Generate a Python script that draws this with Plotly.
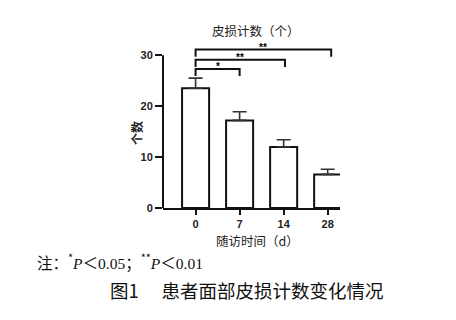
import plotly.graph_objects as go

categories = ["0", "7", "14", "28"]
means = [23.5, 17.2, 12.0, 6.6]
err_up = [2.0, 1.7, 1.4, 1.0]
y_ticks = [0, 10, 20, 30]
# significance brackets: (left idx, right idx, level, label)
br_left = [0, 0, 0]
br_right = [1.0, 2.03, 3.08]
br_level = [27.3, 29.1, 31.1]
br_label = ["*", "**", "**"]

W, H = 456, 320
L, R, T, B = 163, 340, 45, 208

def px(x):
    return (x - L) / (R - L)

def py(y):
    return (B - y) / (B - T)

xs = list(range(len(categories)))

fig = go.Figure()
fig.add_trace(go.Bar(
    x=xs, y=means, width=0.614,
    marker=dict(color="white", line=dict(color="#111", width=2)),
    error_y=dict(type="data", symmetric=False, array=err_up,
                 arrayminus=[0]*len(means), color="#333", thickness=1.6, width=7),
    showlegend=False,
))

shapes = []
# y axis line from 0 to 30
shapes.append(dict(type="line", xref="paper", yref="y", x0=0, x1=0, y0=0, y1=30,
                   line=dict(color="#111", width=2)))
drop = 1.4
for l, r, lv in zip(br_left, br_right, br_level):
    shapes.append(dict(type="path", xref="x", yref="y",
                       path=f"M {l},{lv-drop} L {l},{lv} L {r},{lv} L {r},{lv-drop}",
                       line=dict(color="#111", width=2)))

annotations = []
for l, r, lv, lab in zip(br_left, br_right, br_level, br_label):
    annotations.append(dict(x=(l + r) / 2, y=lv, xref="x", yref="y", text=lab,
                            showarrow=False, xanchor="center", yanchor="bottom", yshift=-5,
                            font=dict(size=10, color="#000", family="Liberation Sans", weight="bold")))

cjk = "Noto Sans CJK SC"
serif = "<span style=\"font-family:Liberation Serif\">{}</span>"
note = ("注：<sup>*</sup>" + serif.format("<i>P</i>") + "＜" + serif.format("0.05") +
        "；<sup>**</sup>" + serif.format("<i>P</i>") + "＜" + serif.format("0.01"))
annotations += [
    dict(x=px(255.5), y=py(30), xref="paper", yref="paper", text="皮损计数（个）",
         xanchor="center", yanchor="middle",
         showarrow=False, font=dict(size=12.5, color="#222", family=cjk)),
    dict(x=px(257), y=py(240), xref="paper", yref="paper", text="随访时间（d）",
         xanchor="center", yanchor="middle",
         showarrow=False, font=dict(size=12.5, color="#222", family=cjk)),
    dict(x=px(136), y=py(133), xref="paper", yref="paper", text="个数", textangle=-90,
         xanchor="center", yanchor="middle",
         showarrow=False, font=dict(size=12, color="#222", family=cjk, weight="bold")),
    dict(x=px(35), y=py(261), xref="paper", yref="paper", xanchor="left", yanchor="middle",
         text=note, showarrow=False, font=dict(size=15.5, color="#111", family=cjk)),
    dict(x=px(246), y=py(290), xref="paper", yref="paper",
         xanchor="center", yanchor="middle",
         text="图1　 患者面部皮损计数变化情况",
         showarrow=False, font=dict(size=18.5, color="#111", family=cjk)),
]

fig.update_layout(
    width=W, height=H,
    margin=dict(l=L, r=W - R, t=T, b=H - B, pad=0),
    paper_bgcolor="white", plot_bgcolor="white",
    shapes=shapes, annotations=annotations,
    xaxis=dict(range=[-0.74, 3.28], tickmode="array", tickvals=xs, ticktext=categories,
               showline=True, linecolor="#111", linewidth=2, ticks="outside",
               ticklen=5, tickwidth=2, tickcolor="#111", showgrid=False, zeroline=False,
               tickfont=dict(size=11, color="#222", family="Liberation Sans", weight="bold")),
    yaxis=dict(range=[0, 32], tickmode="array", tickvals=y_ticks,
               showline=False, ticks="outside", ticklen=7, tickwidth=2, tickcolor="#111",
               showgrid=False, zeroline=False,
               tickfont=dict(size=11, color="#222", family="Liberation Sans", weight="bold")),
)

fig.write_html("out.html")
